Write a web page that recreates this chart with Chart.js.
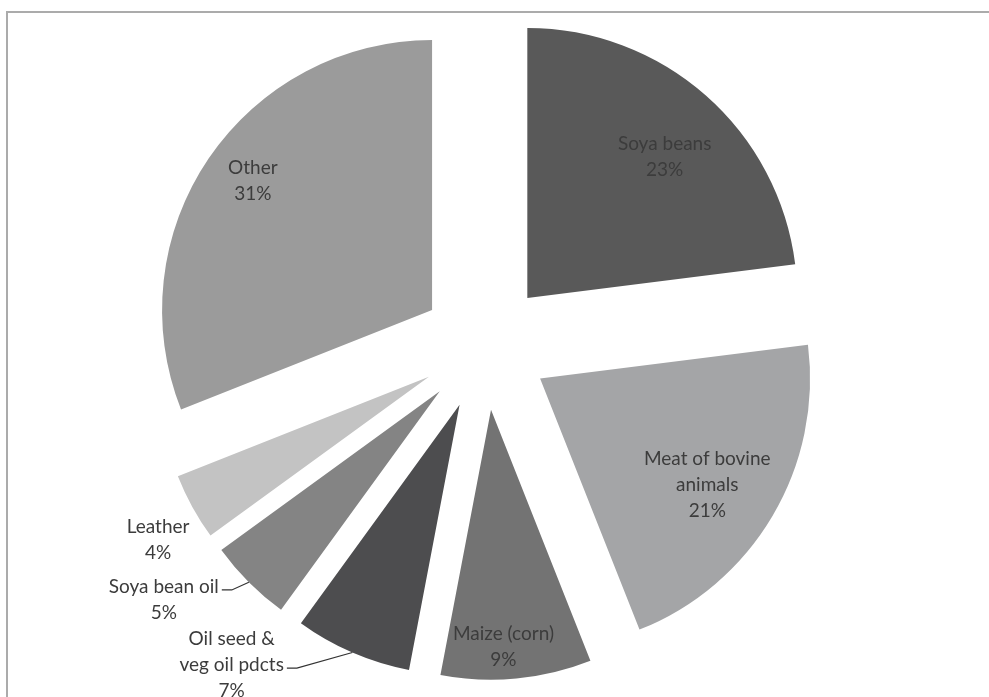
<!DOCTYPE html>
<html>
<head>
<meta charset="utf-8">
<script src="https://cdn.jsdelivr.net/npm/chart.js@4/dist/chart.umd.min.js"></script>
<style>
  html, body { margin: 0; padding: 0; background: #fff; overflow: hidden; }
  #frame {
    position: absolute; left: 6px; top: 11px; width: 1000px; height: 720px;
    border-top: 2px solid #ababab; border-left: 2px solid #ababab;
  }
  #pie { position: absolute; left: 0; top: 0; }
</style>
</head>
<body>
<div id="frame"></div>
<canvas id="pie" width="989" height="697"></canvas>
<script>
// export shares, clockwise from 12 o'clock
const categories = ['Soya beans', 'Meat of bovine animals', 'Maize (corn)',
  'Oil seed & veg oil pdcts', 'Soya bean oil', 'Leather', 'Other'];
const shares = [23, 21, 9, 7, 5, 4, 31];
const nameLines = [
  ['Soya beans'], ['Meat of bovine', 'animals'], ['Maize (corn)'],
  ['Oil seed &', 'veg oil pdcts'], ['Soya bean oil'], ['Leather'], ['Other']
];

const SLICE_COLORS = ['#595959', '#a4a5a7', '#737373', '#4d4d4f', '#848484', '#c3c3c3', '#9b9b9b'];
const EXPLODE = 64;       // how far each slice is pulled out from the centre
const LINE_H = 26;
const FONT = '19px Lato, "Open Sans", sans-serif';

// where each label sits: distance from the slice tip, and a small turn off its mid angle
const labelLayout = [
  { dist: 197, turn: 2.8 },
  { dist: 198, turn: 1.8 },
  { dist: 237, turn: 2.4 },
  { dist: 346, turn: 17.8, leader: true },
  { dist: 346, turn: 7.9, leader: true },
  { dist: 316, turn: -2.2 },
  { dist: 221, turn: 1.6 }
];

const rad = d => d * Math.PI / 180;

function sliceGeom(arc) {
  const mid = (arc.startAngle + arc.endAngle) / 2;
  const tipX = arc.x + Math.cos(mid) * EXPLODE;
  const tipY = arc.y + Math.sin(mid) * EXPLODE;
  return { mid, tipX, tipY };
}

// pulls every slice outwards along its mid angle before the arc draws itself
const explodedSlices = {
  id: 'explodedSlices',
  beforeDatasetDraw(chart, args) {
    const ctx = chart.ctx;
    args.meta.data.forEach(arc => {
      const { mid } = sliceGeom(arc);
      ctx.save();
      ctx.translate(Math.cos(mid) * EXPLODE, Math.sin(mid) * EXPLODE);
      arc.draw(ctx);
      ctx.restore();
    });
    return false;
  }
};

const sliceLabels = {
  id: 'sliceLabels',
  afterDatasetsDraw(chart) {
    const ctx = chart.ctx;
    const arcs = chart.getDatasetMeta(0).data;
    ctx.save();
    ctx.font = FONT;
    ctx.fillStyle = '#3c3c3c';
    ctx.textAlign = 'center';
    ctx.textBaseline = 'middle';
    arcs.forEach((arc, i) => {
      const g = sliceGeom(arc);
      const lay = labelLayout[i];
      const a = g.mid + rad(lay.turn);
      const cx = g.tipX + Math.cos(a) * lay.dist;
      const cy = g.tipY + Math.sin(a) * lay.dist;
      const lines = nameLines[i].concat(shares[i] + '%');
      const top = cy - (lines.length - 1) / 2 * LINE_H;
      lines.forEach((t, k) => ctx.fillText(t, cx, top + k * LINE_H));

      if (lay.leader) {
        const last = nameLines[i].length - 1;
        const w = ctx.measureText(nameLines[i][last]).width;
        const sx = cx + w / 2 + 3;
        const sy = top + last * LINE_H + 3;
        const ex = g.tipX + Math.cos(g.mid) * arc.outerRadius;
        const ey = g.tipY + Math.sin(g.mid) * arc.outerRadius;
        ctx.strokeStyle = '#333';
        ctx.lineWidth = 1.2;
        ctx.beginPath();
        ctx.moveTo(sx, sy);
        ctx.lineTo(sx + 10, sy);
        ctx.lineTo(ex, ey);
        ctx.stroke();
      }
    });
    ctx.restore();
  }
};

new Chart(document.getElementById('pie'), {
  type: 'pie',
  data: {
    labels: categories,
    datasets: [{
      data: shares,
      backgroundColor: SLICE_COLORS,
      borderWidth: 0
    }]
  },
  options: {
    responsive: false,
    animation: false,
    radius: 270,
    layout: { padding: { left: 0, right: 19, top: 0, bottom: 5 } },
    plugins: {
      legend: { display: false },
      tooltip: { enabled: false }
    }
  },
  plugins: [explodedSlices, sliceLabels]
});
</script>
</body>
</html>
